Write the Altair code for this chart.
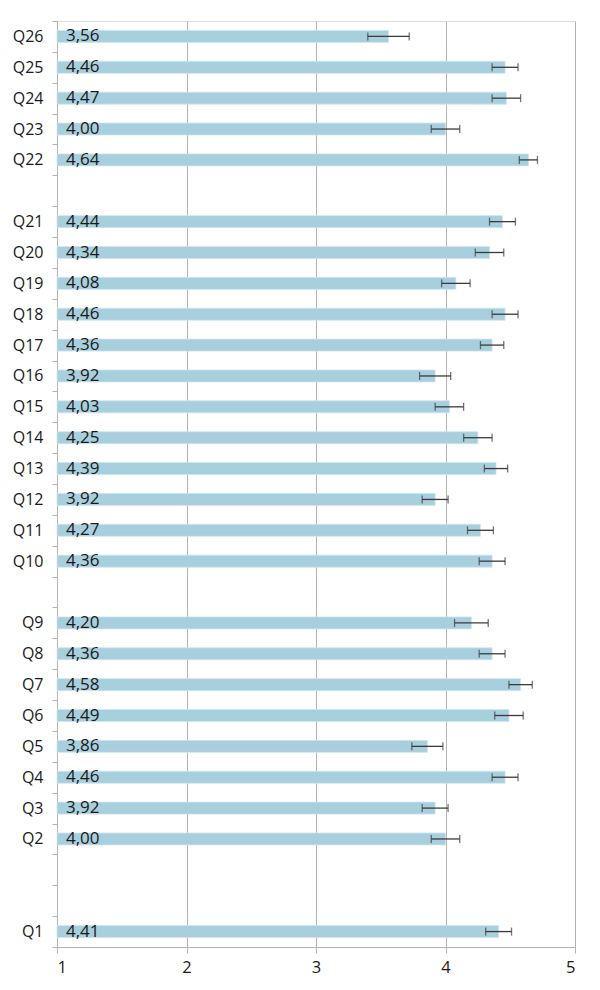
import altair as alt
import pandas as pd

# Survey items, mean scores and error-bar half widths
questions = [f"Q{i}" for i in range(1, 27)]
means = [4.41, 4.00, 3.92, 4.46, 3.86, 4.49, 4.58, 4.36, 4.20, 4.36,
         4.27, 3.92, 4.39, 4.25, 4.03, 3.92, 4.36, 4.46, 4.08, 4.34,
         4.44, 4.64, 4.00, 4.47, 4.46, 3.56]
errors = [0.10, 0.11, 0.10, 0.10, 0.12, 0.11, 0.09, 0.10, 0.13, 0.10,
          0.10, 0.10, 0.09, 0.11, 0.11, 0.12, 0.09, 0.10, 0.11, 0.11,
          0.10, 0.07, 0.11, 0.11, 0.10, 0.16]

# Row order top to bottom; names starting with "_" are empty spacer rows
row_order = (["Q26", "Q25", "Q24", "Q23", "Q22", "_a"]
             + [f"Q{i}" for i in range(21, 9, -1)] + ["_b"]
             + [f"Q{i}" for i in range(9, 1, -1)] + ["_c", "_d", "Q1"])

x_ticks = [1, 2, 3, 4, 5]

df = pd.DataFrame({"q": questions, "mean": means, "err": errors})
df["base"] = 1.0
df["lo"] = df["mean"] - df["err"]
df["hi"] = df["mean"] + df["err"]
df["label"] = df["mean"].map(lambda v: f"{v:.2f}".replace(".", ","))

FONT = "Open Sans"
GRID = "#b3b3b3"

y_enc = alt.Y(
    "q:N",
    sort=row_order,
    scale=alt.Scale(domain=row_order, paddingInner=0, paddingOuter=0),
    axis=alt.Axis(
        title=None,
        labelExpr="indexof(datum.label, '_') == 0 ? '' : datum.label",
        tickBand="extent",
        tickSize=5,
        tickColor=GRID,
        domainColor=GRID,
        labelPadding=9,
        labelFont=FONT,
        labelFontSize=16,
        labelColor="#1a1a1a",
        grid=False,
    ),
)

x_scale = alt.Scale(domain=[1, 5], nice=False, zero=False)

base = alt.Chart(df)

bars = base.mark_bar(size=12, color="#a8cfdd", stroke="#cfe5ee", strokeWidth=0.8).encode(
    y=y_enc,
    x=alt.X(
        "base:Q",
        scale=x_scale,
        axis=alt.Axis(
            title=None,
            values=x_ticks,
            grid=True,
            gridColor=GRID,
            gridWidth=1,
            tickColor=GRID,
            tickSize=6,
            domainColor=GRID,
            labelFont=FONT,
            labelFontSize=16.5,
            labelColor="#1a1a1a",
            labelPadding=6,
            format="d",
        ),
    ),
    x2="mean:Q",
)

whisker = base.mark_rule(color="#3a3a3a", strokeWidth=1.3).encode(
    y=alt.Y("q:N", sort=row_order),
    x="lo:Q",
    x2="hi:Q",
)

cap_lo = base.mark_tick(color="#3a3a3a", size=8, thickness=1.3).encode(
    y=alt.Y("q:N", sort=row_order),
    x="lo:Q",
)
cap_hi = base.mark_tick(color="#3a3a3a", size=8, thickness=1.3).encode(
    y=alt.Y("q:N", sort=row_order),
    x="hi:Q",
)

labels = base.mark_text(
    align="left", baseline="middle", dx=9, font=FONT, fontSize=17, color="#1a1a1a"
).encode(
    y=alt.Y("q:N", sort=row_order),
    x="base:Q",
    text="label:N",
)

chart = (
    alt.layer(bars, whisker, cap_lo, cap_hi, labels)
    .properties(
        width=518,
        height=926,
        autosize=alt.AutoSizeParams(type="none"),
        padding={"left": 57, "top": 21, "right": 25, "bottom": 43},
    )
    .configure_view(stroke=None)
    .configure(background="white")
)

chart.save("out.html", embed_options={"renderer": "svg", "actions": False})
